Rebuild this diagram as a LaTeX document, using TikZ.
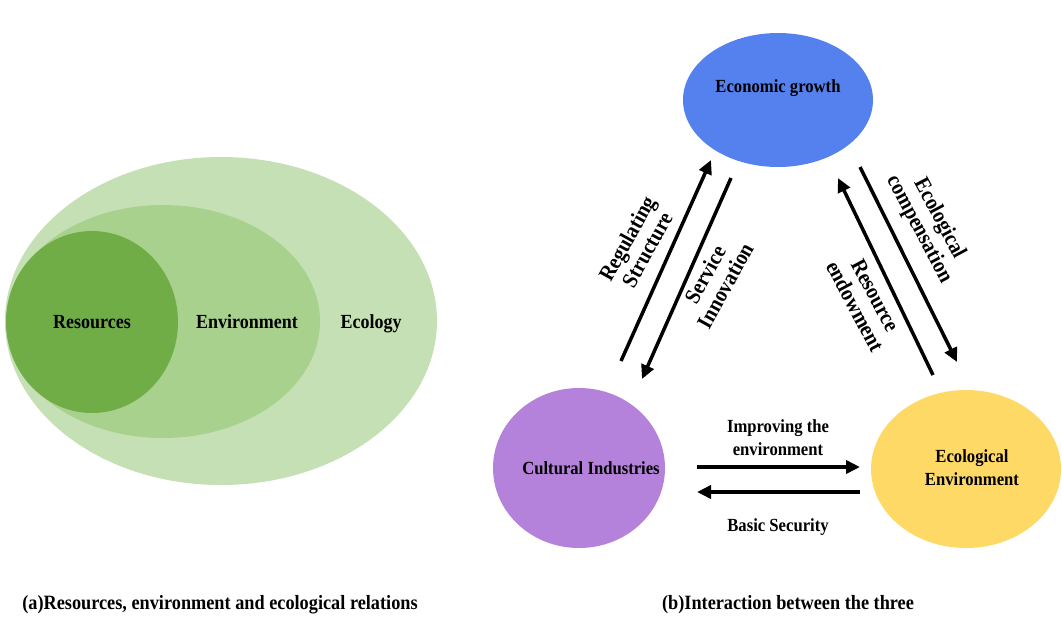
\documentclass[tikz,border=0pt]{standalone}
\usepackage{fontspec}
\setmainfont{Liberation Serif}[FakeStretch=0.9]
\usepackage{tikz}
\usetikzlibrary{shapes.geometric,arrows.meta,positioning,calc}
\definecolor{ecologygreen}{HTML}{C5E0B4}
\definecolor{envgreen}{HTML}{A9D18E}
\definecolor{resgreen}{HTML}{70AD47}
\definecolor{econblue}{HTML}{5581EE}
\definecolor{cultpurple}{HTML}{B482DA}
\definecolor{ecoyellow}{HTML}{FFD966}
\tikzset{%
        blob/.style = { ellipse, inner sep=0pt },
        link/.style = { -{Triangle[length=14pt,width=13pt]}, line width=3.5pt },
      bigtag/.style = { font=\fontsize{20}{24}\selectfont\bfseries, align=center, text height=13pt, text depth=0pt },
    smalltag/.style = { font=\fontsize{18.5}{23}\selectfont\bfseries, align=center },
      rottag/.style = { font=\fontsize{22.2}{23}\selectfont\bfseries, align=center },
      captag/.style = { font=\fontsize{20.3}{24}\selectfont\bfseries }
}

\begin{document}
\begin{tikzpicture}[x=1pt,y=-1pt]
  \useasboundingbox (0,0) rectangle (1062,619);

  % (a) nested sets
  \node[blob, fill=ecologygreen, minimum width=432, minimum height=328] (ecology) at (221,321) {};
  \node[blob, fill=envgreen, minimum width=314, minimum height=233] (environment) at (163,321.5) {};
  \node[blob, fill=resgreen, minimum width=172, minimum height=182] (resources) at (92,322) {};
  \node[bigtag] (restxt) at (92,322) {Resources};
  \node[bigtag] (envtxt) at (247,322) {Environment};
  \node[bigtag] (ecotxt) at (371,322) {Ecology};

  % (b) the three parts
  \node[blob, fill=econblue, minimum width=190, minimum height=134] (econ) at (778,100) {};
  \node[blob, fill=cultpurple, minimum width=172, minimum height=160] (cult) at (579,468) {};
  \node[blob, fill=ecoyellow, minimum width=190, minimum height=158] (eco) at (966,469) {};
  \node[smalltag] (econtxt) at (778,88) {Economic growth};
  \node[smalltag] (culttxt) at (591,468) {Cultural Industries};
  \node[smalltag] (ecotxt2) at (972,468) {Ecological\\Environment};

  \draw[link] ([shift={(42,-107)}]cult.center) -- ([shift={(-67,60)}]econ.center);
  \draw[link] ([shift={(-47,78)}]econ.center) -- ([shift={(63,-89)}]cult.center);
  \draw[link] ([shift={(-33,-94)}]eco.center) -- ([shift={(60,78)}]econ.center);
  \draw[link] ([shift={(82,67)}]econ.center) -- ([shift={(-9,-107)}]eco.center);
  \draw[link] ([shift={(118,-1)}]cult.center) -- ([shift={(-106,-2)}]eco.center);
  \draw[link] ([shift={(-106,23)}]eco.center) -- ([shift={(118,24)}]cult.center);

  \node[rottag, rotate=61] (regtxt) at (637,244) {Regulating\\Structure};
  \node[rottag, rotate=61] (sertxt) at (715,280) {Service\\Innovation};
  \node[rottag, rotate=-62] (resendtxt) at (865,301) {Resource\\endowment};
  \node[rottag, rotate=-62] (compltxt) at (929,224) {Ecological\\compensation};
  \node[smalltag] (imptxt) at (778,438) {Improving the\\environment};
  \node[smalltag] (sectxt) at (778,527) {Basic Security};

  % captions
  \node[captag] (capa) at (220,605) {(a)Resources, environment and ecological relations};
  \node[captag] (capb) at (788,605) {(b)Interaction between the three};
\end{tikzpicture}
\end{document}
